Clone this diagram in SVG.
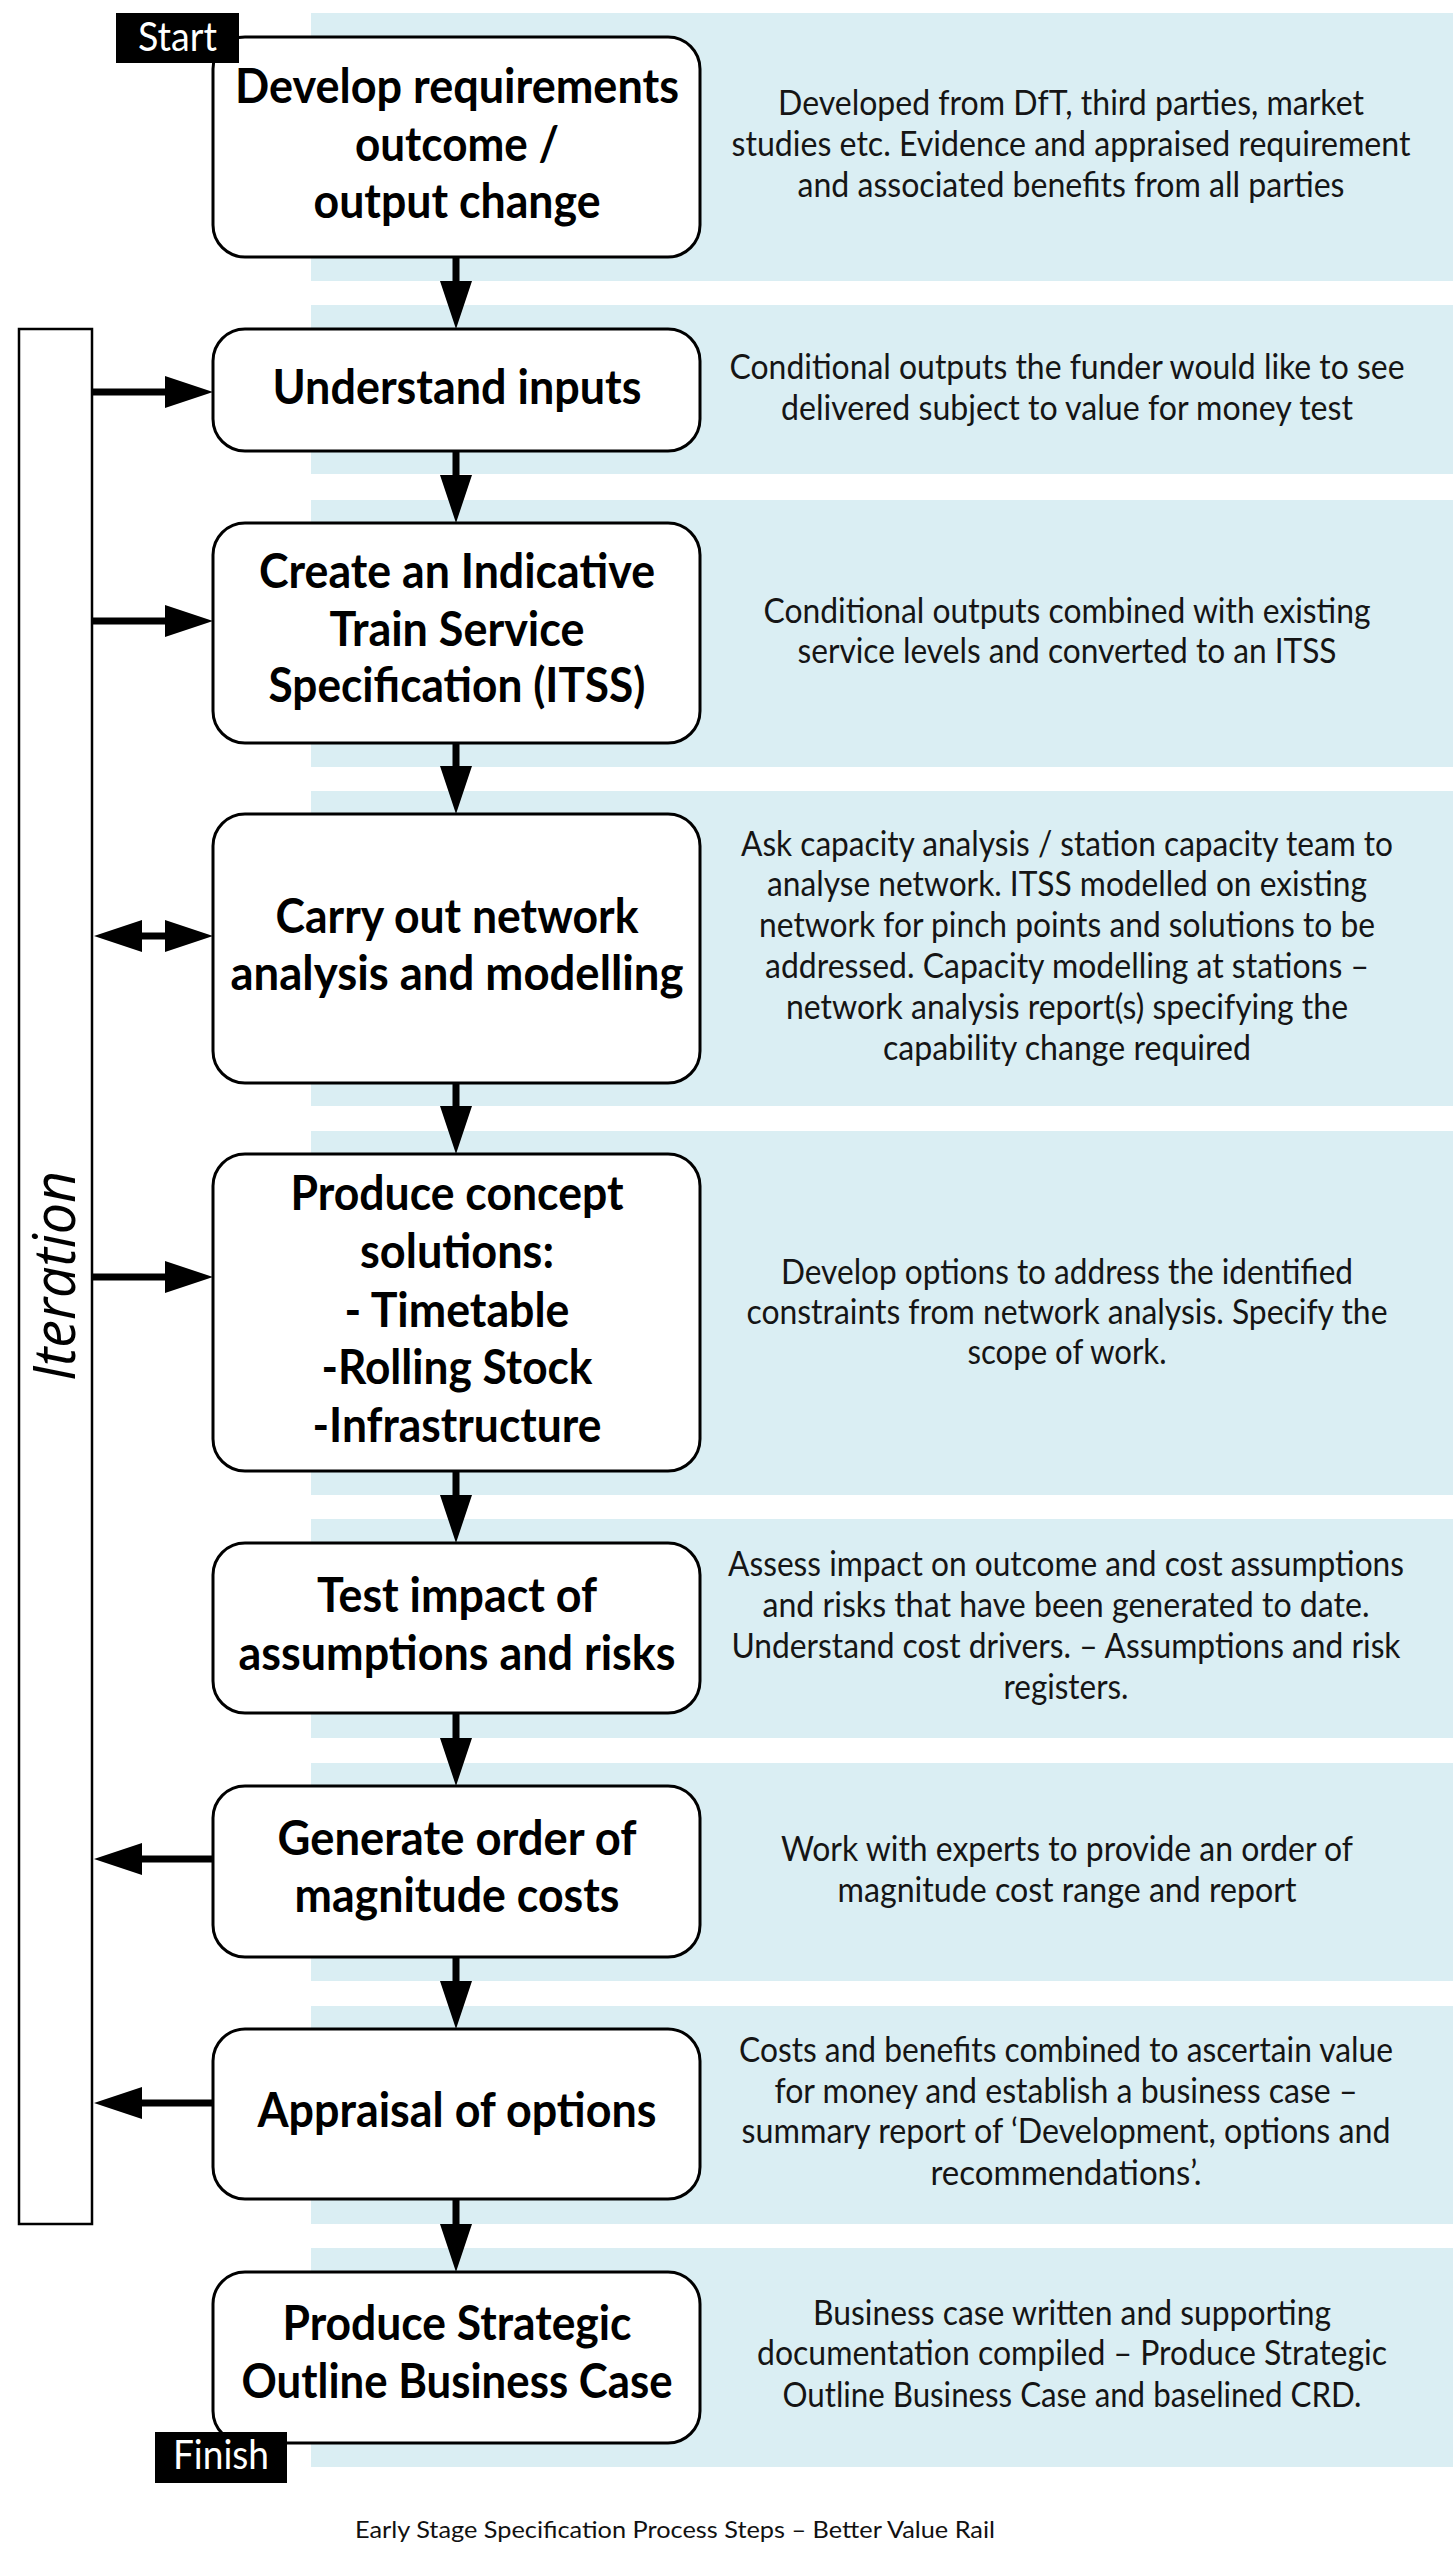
<svg xmlns="http://www.w3.org/2000/svg" width="1453" height="2560" viewBox="0 0 1453 2560">
<style>
.band{fill:#DAEEF3}
.box{fill:#fff;stroke:#000;stroke-width:3}
.title{font-family:Lato,"Liberation Sans",sans-serif;font-weight:bold;font-size:47px;fill:#000;text-anchor:middle}
.desc{font-family:Lato,"Liberation Sans",sans-serif;font-size:34px;fill:#151515;text-anchor:middle}
.tag{fill:#000}
.tagt{font-family:Lato,"Liberation Sans",sans-serif;font-size:40px;fill:#fff;text-anchor:middle}
.conn{stroke:#000;stroke-width:7;fill:none}
.cap{font-family:Lato,"Liberation Sans",sans-serif;font-size:24px;fill:#111;text-anchor:middle}
</style>
<defs>
<marker id="ah" markerUnits="userSpaceOnUse" markerWidth="50" markerHeight="34" viewBox="0 -17 50 34" refX="0" refY="0" orient="auto">
<path d="M0,-16 L48,0 L0,16 z" fill="#000"/>
</marker>
<marker id="ah2" markerUnits="userSpaceOnUse" markerWidth="50" markerHeight="34" viewBox="0 -17 50 34" refX="0" refY="0" orient="auto-start-reverse">
<path d="M0,-16 L48,0 L0,16 z" fill="#000"/>
</marker>
</defs>
<rect width="1453" height="2560" fill="#fff"/>
<g id="bands">
<rect class="band" x="311" y="13" width="1142" height="268"/>
<rect class="band" x="311" y="305" width="1142" height="169"/>
<rect class="band" x="311" y="500" width="1142" height="267"/>
<rect class="band" x="311" y="791" width="1142" height="315"/>
<rect class="band" x="311" y="1131" width="1142" height="364"/>
<rect class="band" x="311" y="1519" width="1142" height="219"/>
<rect class="band" x="311" y="1763" width="1142" height="218"/>
<rect class="band" x="311" y="2006" width="1142" height="218"/>
<rect class="band" x="311" y="2248" width="1142" height="219"/>
</g>
<g id="iteration">
<rect x="19" y="329" width="73" height="1895" fill="#fff" stroke="#000" stroke-width="2.5"/>
<text transform="translate(75,1276) rotate(-90)" text-anchor="middle" font-family="'Open Sans',Lato,sans-serif" font-style="italic" font-size="58" textLength="210" lengthAdjust="spacingAndGlyphs" fill="#000">Iteration</text>
</g>
<g id="connectors">
<line class="conn" x1="456" y1="257" x2="456" y2="281" marker-end="url(#ah)"/>
<line class="conn" x1="456" y1="451" x2="456" y2="475" marker-end="url(#ah)"/>
<line class="conn" x1="456" y1="743" x2="456" y2="766" marker-end="url(#ah)"/>
<line class="conn" x1="456" y1="1083" x2="456" y2="1106" marker-end="url(#ah)"/>
<line class="conn" x1="456" y1="1471" x2="456" y2="1495" marker-end="url(#ah)"/>
<line class="conn" x1="456" y1="1713" x2="456" y2="1738" marker-end="url(#ah)"/>
<line class="conn" x1="456" y1="1957" x2="456" y2="1981" marker-end="url(#ah)"/>
<line class="conn" x1="456" y1="2199" x2="456" y2="2224" marker-end="url(#ah)"/>
<line class="conn" x1="92" y1="392" x2="165" y2="392" marker-end="url(#ah)"/>
<line class="conn" x1="92" y1="621" x2="165" y2="621" marker-end="url(#ah)"/>
<line class="conn" x1="142" y1="936" x2="165" y2="936" marker-start="url(#ah2)" marker-end="url(#ah2)"/>
<line class="conn" x1="92" y1="1277" x2="165" y2="1277" marker-end="url(#ah)"/>
<line class="conn" x1="213" y1="1859" x2="142" y2="1859" marker-end="url(#ah)"/>
<line class="conn" x1="213" y1="2103" x2="142" y2="2103" marker-end="url(#ah)"/>
</g>
<g id="n1">
<rect class="box" x="213" y="37" width="487" height="220" rx="32"/>
<text class="title" x="457" y="103" textLength="444" lengthAdjust="spacingAndGlyphs">Develop requirements</text>
<text class="title" x="457" y="161" textLength="204" lengthAdjust="spacingAndGlyphs">outcome /</text>
<text class="title" x="457" y="218" textLength="287" lengthAdjust="spacingAndGlyphs">output change</text>
<text class="desc" x="1071" y="115" textLength="586" lengthAdjust="spacingAndGlyphs">Developed from DfT, third parties, market</text>
<text class="desc" x="1071" y="156" textLength="679" lengthAdjust="spacingAndGlyphs">studies etc. Evidence and appraised requirement</text>
<text class="desc" x="1071" y="197" textLength="547" lengthAdjust="spacingAndGlyphs">and associated benefits from all parties</text>
</g>
<g id="start">
<rect class="tag" x="116" y="13" width="123" height="50"/>
<text class="tagt" x="177.5" y="51" textLength="79" lengthAdjust="spacingAndGlyphs">Start</text>
</g>
<g id="n2">
<rect class="box" x="213" y="329" width="487" height="122" rx="32"/>
<text class="title" x="457" y="404" textLength="369" lengthAdjust="spacingAndGlyphs">Understand inputs</text>
<text class="desc" x="1067" y="379" textLength="675" lengthAdjust="spacingAndGlyphs">Conditional outputs the funder would like to see</text>
<text class="desc" x="1067" y="420" textLength="572" lengthAdjust="spacingAndGlyphs">delivered subject to value for money test</text>
</g>
<g id="n3">
<rect class="box" x="213" y="523" width="487" height="220" rx="32"/>
<text class="title" x="457" y="588" textLength="396" lengthAdjust="spacingAndGlyphs">Create an Indicative</text>
<text class="title" x="457" y="646" textLength="255" lengthAdjust="spacingAndGlyphs">Train Service</text>
<text class="title" x="457" y="702" textLength="377" lengthAdjust="spacingAndGlyphs">Specification (ITSS)</text>
<text class="desc" x="1067" y="623" textLength="607" lengthAdjust="spacingAndGlyphs">Conditional outputs combined with existing</text>
<text class="desc" x="1067" y="663" textLength="539" lengthAdjust="spacingAndGlyphs">service levels and converted to an ITSS</text>
</g>
<g id="n4">
<rect class="box" x="213" y="814" width="487" height="269" rx="32"/>
<text class="title" x="457" y="933" textLength="363" lengthAdjust="spacingAndGlyphs">Carry out network</text>
<text class="title" x="457" y="990" textLength="453" lengthAdjust="spacingAndGlyphs">analysis and modelling</text>
<text class="desc" x="1067" y="856" textLength="652" lengthAdjust="spacingAndGlyphs">Ask capacity analysis / station capacity team to</text>
<text class="desc" x="1067" y="896" textLength="600" lengthAdjust="spacingAndGlyphs">analyse network. ITSS modelled on existing</text>
<text class="desc" x="1067" y="937" textLength="616" lengthAdjust="spacingAndGlyphs">network for pinch points and solutions to be</text>
<text class="desc" x="1067" y="978" textLength="604" lengthAdjust="spacingAndGlyphs">addressed. Capacity modelling at stations –</text>
<text class="desc" x="1067" y="1019" textLength="562" lengthAdjust="spacingAndGlyphs">network analysis report(s) specifying the</text>
<text class="desc" x="1067" y="1060" textLength="368" lengthAdjust="spacingAndGlyphs">capability change required</text>
</g>
<g id="n5">
<rect class="box" x="213" y="1154" width="487" height="317" rx="32"/>
<text class="title" x="457" y="1210" textLength="333" lengthAdjust="spacingAndGlyphs">Produce concept</text>
<text class="title" x="457" y="1268" textLength="194" lengthAdjust="spacingAndGlyphs">solutions:</text>
<text class="title" x="457" y="1327" textLength="225" lengthAdjust="spacingAndGlyphs">- Timetable</text>
<text class="title" x="457" y="1384" textLength="271" lengthAdjust="spacingAndGlyphs">-Rolling Stock</text>
<text class="title" x="457" y="1442" textLength="289" lengthAdjust="spacingAndGlyphs">-Infrastructure</text>
<text class="desc" x="1067" y="1284" textLength="572" lengthAdjust="spacingAndGlyphs">Develop options to address the identified</text>
<text class="desc" x="1067" y="1324" textLength="641" lengthAdjust="spacingAndGlyphs">constraints from network analysis. Specify the</text>
<text class="desc" x="1067" y="1364" textLength="199" lengthAdjust="spacingAndGlyphs">scope of work.</text>
</g>
<g id="n6">
<rect class="box" x="213" y="1543" width="487" height="170" rx="32"/>
<text class="title" x="457" y="1612" textLength="280" lengthAdjust="spacingAndGlyphs">Test impact of</text>
<text class="title" x="457" y="1670" textLength="437" lengthAdjust="spacingAndGlyphs">assumptions and risks</text>
<text class="desc" x="1066" y="1576" textLength="676" lengthAdjust="spacingAndGlyphs">Assess impact on outcome and cost assumptions</text>
<text class="desc" x="1066" y="1617" textLength="607" lengthAdjust="spacingAndGlyphs">and risks that have been generated to date.</text>
<text class="desc" x="1066" y="1658" textLength="669" lengthAdjust="spacingAndGlyphs">Understand cost drivers. – Assumptions and risk</text>
<text class="desc" x="1066" y="1699" textLength="125" lengthAdjust="spacingAndGlyphs">registers.</text>
</g>
<g id="n7">
<rect class="box" x="213" y="1786" width="487" height="171" rx="32"/>
<text class="title" x="457" y="1855" textLength="359" lengthAdjust="spacingAndGlyphs">Generate order of</text>
<text class="title" x="457" y="1912" textLength="325" lengthAdjust="spacingAndGlyphs">magnitude costs</text>
<text class="desc" x="1067" y="1861" textLength="572" lengthAdjust="spacingAndGlyphs">Work with experts to provide an order of</text>
<text class="desc" x="1067" y="1902" textLength="459" lengthAdjust="spacingAndGlyphs">magnitude cost range and report</text>
</g>
<g id="n8">
<rect class="box" x="213" y="2029" width="487" height="170" rx="32"/>
<text class="title" x="457" y="2127" textLength="399" lengthAdjust="spacingAndGlyphs">Appraisal of options</text>
<text class="desc" x="1066" y="2062" textLength="654" lengthAdjust="spacingAndGlyphs">Costs and benefits combined to ascertain value</text>
<text class="desc" x="1066" y="2103" textLength="583" lengthAdjust="spacingAndGlyphs">for money and establish a business case –</text>
<text class="desc" x="1066" y="2143" textLength="649" lengthAdjust="spacingAndGlyphs">summary report of ‘Development, options and</text>
<text class="desc" x="1066" y="2185" textLength="271" lengthAdjust="spacingAndGlyphs">recommendations’.</text>
</g>
<g id="n9">
<rect class="box" x="213" y="2272" width="487" height="171" rx="32"/>
<text class="title" x="457" y="2340" textLength="349" lengthAdjust="spacingAndGlyphs">Produce Strategic</text>
<text class="title" x="457" y="2398" textLength="431" lengthAdjust="spacingAndGlyphs">Outline Business Case</text>
<text class="desc" x="1072" y="2325" textLength="518" lengthAdjust="spacingAndGlyphs">Business case written and supporting</text>
<text class="desc" x="1072" y="2365" textLength="630" lengthAdjust="spacingAndGlyphs">documentation compiled – Produce Strategic</text>
<text class="desc" x="1072" y="2407" textLength="579" lengthAdjust="spacingAndGlyphs">Outline Business Case and baselined CRD.</text>
</g>
<g id="finish">
<rect class="tag" x="155" y="2432" width="132" height="51"/>
<text class="tagt" x="221" y="2469" textLength="96" lengthAdjust="spacingAndGlyphs">Finish</text>
</g>
<text class="cap" x="675" y="2538" textLength="640" lengthAdjust="spacingAndGlyphs">Early Stage Specification Process Steps – Better Value Rail</text>
</svg>
